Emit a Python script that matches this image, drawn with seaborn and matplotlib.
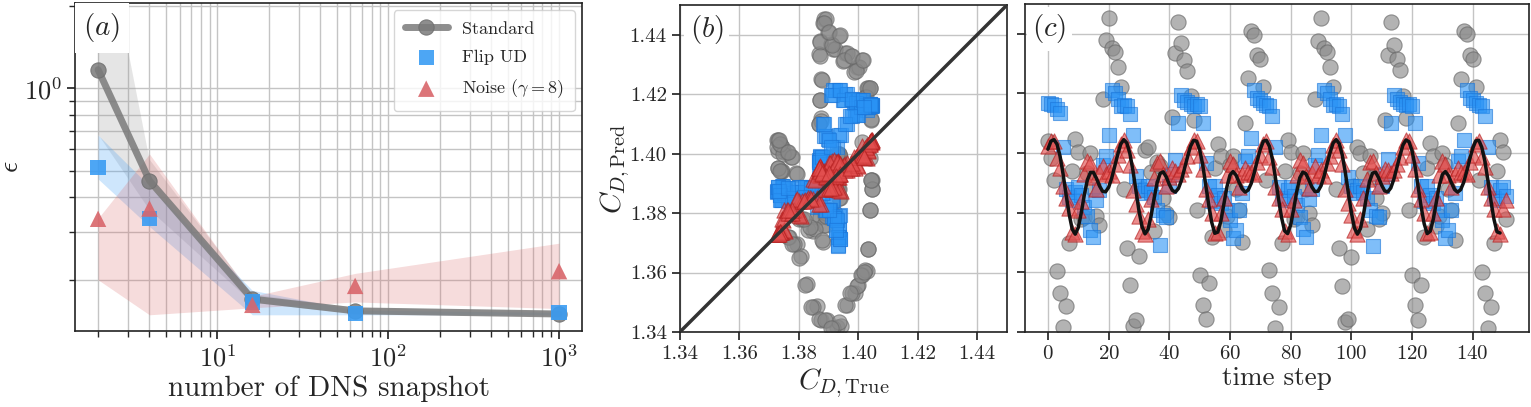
import numpy as np
import seaborn as sns
import matplotlib.pyplot as plt
from matplotlib.ticker import NullFormatter, LogLocator, MultipleLocator

# ---- panel (a): error vs number of DNS snapshots ----
n_snapshots = [2, 4, 16, 64, 1000]
err_standard = [1.17, 0.46, 0.170, 0.154, 0.150]
err_standard_lo = [0.68, 0.36, 0.165, 0.150, 0.147]
err_standard_hi = [5.0, 0.55, 0.177, 0.158, 0.153]
err_flip = [0.515, 0.335, 0.166, 0.151, 0.152]
err_flip_lo = [0.467, 0.313, 0.149, 0.149, 0.149]
err_flip_hi = [0.675, 0.44, 0.183, 0.155, 0.152]
err_noise = [0.334, 0.364, 0.162, 0.190, 0.215]
err_noise_lo = [0.200, 0.149, 0.158, 0.166, 0.157]
err_noise_hi = [0.335, 0.576, 0.174, 0.211, 0.272]

# ---- panels (b), (c): drag coefficient time series ----
cd_true = [
    1.4013, 1.4040, 1.4045, 1.4030, 1.3990, 1.3930, 1.3860, 1.3795, 1.3745, 1.3728,
    1.3750, 1.3800, 1.3860, 1.3910, 1.3935, 1.3935, 1.3915, 1.3890, 1.3872, 1.3870,
    1.3885, 1.3915, 1.3955, 1.3995, 1.4030, 1.4045, 1.4034, 1.3999, 1.3943, 1.3874,
    1.3807, 1.3754, 1.3729, 1.3744, 1.3789, 1.3848, 1.3901, 1.3932, 1.3937, 1.3920,
    1.3895, 1.3875, 1.3869, 1.3881, 1.3908, 1.3947, 1.3987, 1.4023, 1.4043, 1.4040,
    1.4012, 1.3962, 1.3895, 1.3826, 1.3767, 1.3731, 1.3735, 1.3772, 1.3830, 1.3887,
    1.3926, 1.3938, 1.3926, 1.3902, 1.3880, 1.3869, 1.3876, 1.3898, 1.3934, 1.3975,
    1.4013, 1.4040, 1.4043, 1.4023, 1.3979, 1.3916, 1.3846, 1.3784, 1.3739, 1.3730,
    1.3759, 1.3812, 1.3871, 1.3917, 1.3936, 1.3931, 1.3910, 1.3886, 1.3871, 1.3872,
    1.3890, 1.3922, 1.3963, 1.4002, 1.4034, 1.4045, 1.4032, 1.3994, 1.3936, 1.3867,
    1.3801, 1.3749, 1.3728, 1.3747, 1.3794, 1.3854, 1.3905, 1.3933, 1.3936, 1.3917,
    1.3892, 1.3873, 1.3870, 1.3883, 1.3912, 1.3951, 1.3991, 1.4027, 1.4044, 1.4038,
    1.4008, 1.3956, 1.3888, 1.3820, 1.3763, 1.3730, 1.3738, 1.3778, 1.3836, 1.3892,
    1.3928, 1.3938, 1.3924, 1.3900, 1.3878, 1.3869, 1.3877, 1.3901, 1.3938, 1.3979,
    1.4016, 1.4041, 1.4043, 1.4019, 1.3973, 1.3909, 1.3840, 1.3778, 1.3736, 1.3732,
    1.3763, 1.3818,
]

cd_standard = [
    1.4040, 1.3985,
    1.3910, 1.3606, 1.3531, 1.3417, 1.3487, 1.3697, 1.3940, 1.4047, 1.4004, 1.3780,
    1.3787, 1.3933, 1.4000, 1.3880, 1.3790, 1.3760, 1.4180, 1.4378, 1.4454, 1.4353,
    1.4340, 1.4290, 1.4220,
    1.3880, 1.3680, 1.3557, 1.3420, 1.3440, 1.3655, 1.3880, 1.4010, 1.4022, 1.3935,
    1.3740, 1.3970, 1.3955, 1.3850, 1.3800, 1.3787, 1.4120, 1.4334, 1.4439, 1.4370,
    1.4311, 1.4275, 1.4190, 1.4112,
    1.3810, 1.3591, 1.3490, 1.3442, 1.3563, 1.3720, 1.3950, 1.4031, 1.3989, 1.3742,
    1.3790, 1.3960, 1.3990, 1.3880, 1.3810, 1.3703, 1.4100, 1.4252, 1.4409, 1.4395,
    1.4330, 1.4316, 1.4220,
    1.3910, 1.3608, 1.3530, 1.3412, 1.3484, 1.3697, 1.3940, 1.4045, 1.4005, 1.3780,
    1.3787, 1.3933, 1.4000, 1.3880, 1.3800, 1.3760, 1.4180, 1.4375, 1.4454, 1.4353,
    1.4340, 1.4290, 1.4220,
    1.3880, 1.3680, 1.3554, 1.3434, 1.3445, 1.3650, 1.3890, 1.4022, 1.4000, 1.3933,
    1.3745, 1.3990, 1.3920, 1.3850, 1.3780, 1.3800, 1.4110, 1.4330, 1.4439, 1.4364,
    1.4314, 1.4278, 1.4190, 1.4118,
    1.3810, 1.3591, 1.3490, 1.3440, 1.3557, 1.3720, 1.3950, 1.4034, 1.3990, 1.3754,
    1.3790, 1.4000, 1.3960, 1.3880, 1.3810, 1.3709, 1.4100, 1.4249, 1.4409, 1.4398,
    1.4330, 1.4316, 1.4220,
    1.3910, 1.3602, 1.3530, 1.3412, 1.3484, 1.3697, 1.3940, 1.4045, 1.4005, 1.3780,
]

cd_flip = [
    1.4168, 1.4166,
    1.4160, 1.4148, 1.4135, 1.4022, 1.3880, 1.3854, 1.3843, 1.3870, 1.3885, 1.3860,
    1.3820, 1.3790, 1.3742, 1.3720, 1.3843, 1.3877, 1.3960, 1.3989, 1.4060, 1.4213,
    1.4202, 1.4180, 1.4157,
    1.4162, 1.4157, 1.4130, 1.4062, 1.3922, 1.3888, 1.3866, 1.3875, 1.3890, 1.3870,
    1.3854, 1.3810, 1.3692, 1.3793, 1.3787, 1.3888, 1.3930, 1.3978, 1.4101, 1.4196,
    1.4179, 1.4170, 1.4166, 1.4159,
    1.4164, 1.4159, 1.4101, 1.3966, 1.3888, 1.3840, 1.3888, 1.3860, 1.3832, 1.3850,
    1.3810, 1.3776, 1.3714, 1.3742, 1.3810, 1.3866, 1.3972, 1.3989, 1.4050, 1.4213,
    1.4185, 1.4179, 1.4168,
    1.4162, 1.4157, 1.4125, 1.4022, 1.3885, 1.3850, 1.3843, 1.3875, 1.3885, 1.3855,
    1.3825, 1.3785, 1.3745, 1.3718, 1.3845, 1.3880, 1.3960, 1.3992, 1.4060, 1.4213,
    1.4200, 1.4180, 1.4160,
    1.4163, 1.4157, 1.4130, 1.4062, 1.3920, 1.3888, 1.3866, 1.3875, 1.3890, 1.3870,
    1.3850, 1.3810, 1.3690, 1.3790, 1.3785, 1.3888, 1.3930, 1.3980, 1.4100, 1.4196,
    1.4180, 1.4170, 1.4165, 1.4160,
    1.4165, 1.4158, 1.4100, 1.3966, 1.3888, 1.3840, 1.3888, 1.3860, 1.3832, 1.3850,
    1.3810, 1.3776, 1.3714, 1.3742, 1.3810, 1.3866, 1.3972, 1.3989, 1.4045, 1.4213,
    1.4185, 1.4179, 1.4168,
    1.4162, 1.4157, 1.4125, 1.4022, 1.3885, 1.3850, 1.3843, 1.3875, 1.3885, 1.3855,
]

cd_noise = [
    1.4025, 1.4040,
    1.4040, 1.3985, 1.3950, 1.3888, 1.3850, 1.3815, 1.3735, 1.3730, 1.3810, 1.3840,
    1.3930, 1.3975, 1.3968, 1.3920, 1.3880, 1.3935, 1.3955, 1.3930, 1.3940, 1.3925,
    1.3965, 1.3992, 1.4030,
    1.4045, 1.4010, 1.3960, 1.3875, 1.3830, 1.3790, 1.3740, 1.3728, 1.3780, 1.3845,
    1.3915, 1.3968, 1.3975, 1.3930, 1.3890, 1.3920, 1.3950, 1.3940, 1.3930, 1.3945,
    1.3960, 1.3990, 1.4020, 1.4045,
    1.4040, 1.3995, 1.3945, 1.3880, 1.3845, 1.3800, 1.3732, 1.3735, 1.3800, 1.3850,
    1.3925, 1.3972, 1.3965, 1.3925, 1.3885, 1.3930, 1.3950, 1.3935, 1.3935, 1.3930,
    1.3970, 1.3995, 1.4032,
    1.4042, 1.3988, 1.3952, 1.3885, 1.3848, 1.3812, 1.3738, 1.3728, 1.3812, 1.3842,
    1.3928, 1.3978, 1.3966, 1.3922, 1.3882, 1.3932, 1.3958, 1.3928, 1.3942, 1.3922,
    1.3968, 1.3990, 1.4028,
    1.4045, 1.4012, 1.3962, 1.3878, 1.3832, 1.3792, 1.3742, 1.3728, 1.3778, 1.3848,
    1.3912, 1.3970, 1.3972, 1.3932, 1.3888, 1.3922, 1.3948, 1.3942, 1.3932, 1.3942,
    1.3962, 1.3988, 1.4022, 1.4043,
    1.4040, 1.3995, 1.3945, 1.3880, 1.3845, 1.3800, 1.3732, 1.3735, 1.3800, 1.3850,
    1.3925, 1.3972, 1.3965, 1.3925, 1.3885, 1.3930, 1.3950, 1.3935, 1.3935, 1.3930,
    1.3970, 1.3995, 1.4032,
    1.4042, 1.3988, 1.3952, 1.3885, 1.3848, 1.3812, 1.3738, 1.3728, 1.3812, 1.3842,
]

time_step = np.arange(len(cd_true))
diag = [1.34, 1.45]
cd_ticks = [1.34, 1.36, 1.38, 1.40, 1.42, 1.44]

# colours
gray_c = "#8a8a8a"
blue_c = "#2a93f5"
red_c = "#e35050"

sns.set_theme(style="ticks")
plt.rcParams["font.family"] = "serif"
plt.rcParams["font.serif"] = ["cmr10", "DejaVu Serif"]
plt.rcParams["mathtext.fontset"] = "cm"
plt.rcParams["axes.formatter.use_mathtext"] = True
plt.rcParams["axes.unicode_minus"] = False
plt.rcParams["axes.edgecolor"] = "#222222"
plt.rcParams["axes.linewidth"] = 1.2

fig = plt.figure(figsize=(15.31, 4.07), dpi=100)
ax_a = fig.add_axes([0.0490, 0.1867, 0.3312, 0.806])
ax_b = fig.add_axes([0.4441, 0.1843, 0.2136, 0.8034])
ax_c = fig.add_axes([0.6695, 0.1843, 0.3292, 0.8059])

grid_kw = dict(color="#c4c4c4", linewidth=1.0)

# ---------- (a) ----------
ax_a.set_xscale("log")
ax_a.set_yscale("log")
ax_a.fill_between(n_snapshots, err_standard_lo, err_standard_hi, color="#9a9a9a", alpha=0.25, lw=0)
ax_a.fill_between(n_snapshots, err_flip_lo, err_flip_hi, color="#3d9df5", alpha=0.25, lw=0)
ax_a.fill_between(n_snapshots, err_noise_lo, err_noise_hi, color="#d96060", alpha=0.22, lw=0)
sns.lineplot(x=n_snapshots, y=err_standard, ax=ax_a, color="#7a7a7a", alpha=0.85, lw=5,
             marker="o", markersize=11, markeredgecolor="#6e6e6e", label="Standard")
sns.scatterplot(x=n_snapshots, y=err_flip, ax=ax_a, marker="s", s=120, color="#3a9cf3",
                alpha=0.9, edgecolor="none", label="Flip UD", zorder=4)
sns.scatterplot(x=n_snapshots, y=err_noise, ax=ax_a, marker="^", s=140, color="#d9666b",
                alpha=0.9, edgecolor="none", label=r"Noise ($\gamma=8$)", zorder=5)
ax_a.set_ylim(0.13, 2.05)
ax_a.xaxis.set_major_locator(LogLocator(base=10, numticks=10))
ax_a.xaxis.set_minor_locator(LogLocator(base=10, subs=np.arange(2, 10), numticks=20))
ax_a.yaxis.set_minor_locator(LogLocator(base=10, subs=np.arange(2, 10), numticks=20))
ax_a.xaxis.set_minor_formatter(NullFormatter())
ax_a.yaxis.set_minor_formatter(NullFormatter())
ax_a.grid(True, which="both", **grid_kw)
ax_a.set_axisbelow(True)
ax_a.set_xlabel("number of DNS snapshot", fontsize=21, labelpad=3)
ax_a.set_ylabel(r"$\epsilon$", fontsize=20)
ax_a.yaxis.set_label_coords(-0.10, 0.5)
ax_a.tick_params(labelsize=19)
leg = ax_a.legend(loc="upper right", fontsize=13, frameon=True, fancybox=True,
                  borderpad=0.6, labelspacing=0.7, handlelength=2.4, borderaxespad=0.4)
leg.get_frame().set_edgecolor("#cccccc")
ax_a.text(0.016, 0.975, r"$(a)$", transform=ax_a.transAxes, fontsize=21, va="top", ha="left",
          bbox=dict(facecolor="white", edgecolor="none", pad=6), zorder=10)

# ---------- (b) ----------
sc_kw = dict(legend=False)
sns.scatterplot(x=cd_true, y=cd_standard, ax=ax_b, marker="o", s=120, color=gray_c,
                alpha=0.65, edgecolor="#666666", linewidth=0.8, **sc_kw)
sns.scatterplot(x=cd_true, y=cd_flip, ax=ax_b, marker="s", s=110, color=blue_c,
                alpha=0.6, edgecolor="#1a75d9", linewidth=0.8, **sc_kw)
sns.scatterplot(x=cd_true, y=cd_noise, ax=ax_b, marker="^", s=120, color=red_c,
                alpha=0.65, edgecolor="#b52020", linewidth=0.8, **sc_kw)
sns.lineplot(x=diag, y=diag, ax=ax_b, color="#333333", lw=2.5, zorder=6)
ax_b.set_xlim(1.34, 1.45)
ax_b.set_ylim(1.34, 1.45)
ax_b.set_xticks(cd_ticks)
ax_b.set_yticks(cd_ticks)
ax_b.set_xticklabels([f"{v:.2f}" for v in cd_ticks])
ax_b.set_yticklabels([f"{v:.2f}" for v in cd_ticks])
ax_b.grid(True, **grid_kw)
ax_b.set_axisbelow(True)
ax_b.tick_params(labelsize=15)
ax_b.set_xlabel(r"$C_{D,\mathrm{True}}$", fontsize=21, labelpad=2)
ax_b.set_ylabel(r"$C_{D,\mathrm{Pred}}$", fontsize=21)
ax_b.yaxis.set_label_coords(-0.145, 0.5)
ax_b.text(0.03, 0.975, r"$(b)$", transform=ax_b.transAxes, fontsize=21, va="top", ha="left",
          bbox=dict(facecolor="white", edgecolor="none", pad=4), zorder=10)

# ---------- (c) ----------
sns.scatterplot(x=time_step, y=cd_standard, ax=ax_c, marker="o", s=120, color=gray_c,
                alpha=0.65, edgecolor="#666666", linewidth=0.8, **sc_kw)
sns.scatterplot(x=time_step, y=cd_flip, ax=ax_c, marker="s", s=110, color=blue_c,
                alpha=0.6, edgecolor="#1a75d9", linewidth=0.8, **sc_kw)
sns.scatterplot(x=time_step, y=cd_noise, ax=ax_c, marker="^", s=120, color=red_c,
                alpha=0.65, edgecolor="#b52020", linewidth=0.8, **sc_kw)
sns.lineplot(x=time_step[:150], y=cd_true[:150], ax=ax_c, color="#111111", lw=2.5, zorder=6)
ax_c.set_ylim(1.34, 1.45)
ax_c.set_yticks(cd_ticks)
ax_c.xaxis.set_major_locator(MultipleLocator(20))
ax_c.tick_params(labelleft=False, labelsize=15)
ax_c.grid(True, **grid_kw)
ax_c.set_axisbelow(True)
ax_c.set_xlabel("time step", fontsize=19.5, labelpad=2)
ax_c.text(0.014, 0.975, r"$(c)$", transform=ax_c.transAxes, fontsize=21, va="top", ha="left",
          bbox=dict(facecolor="white", edgecolor="none", pad=4), zorder=10)

fig.savefig("out.png", dpi=100)
